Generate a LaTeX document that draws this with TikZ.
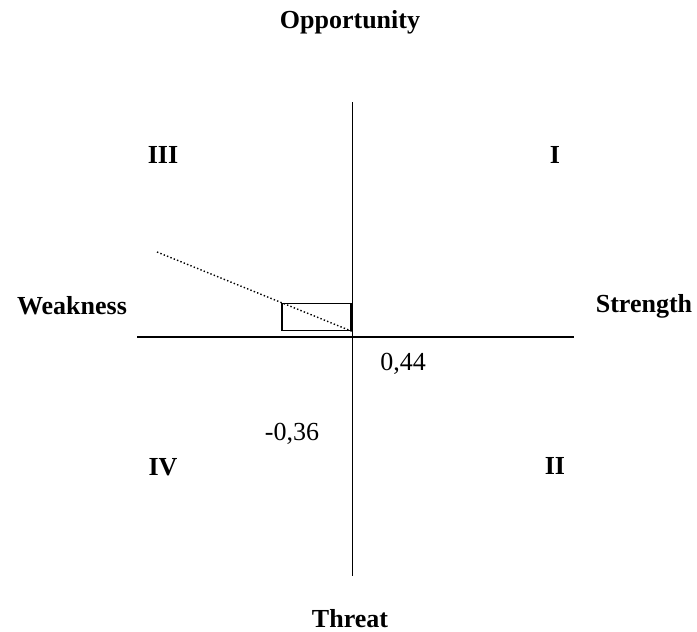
\documentclass[tikz,border=0pt]{standalone}
\usepackage{fontspec}
\setmainfont{Liberation Serif}
\begin{document}
\begin{tikzpicture}[x=1pt,y=-1pt,
  axis/.style={line width=1.5pt},
  lbl/.style={font=\fontsize{26}{30}\selectfont\bfseries, inner sep=0pt},
  num/.style={font=\fontsize{26}{30}\selectfont, inner sep=0pt},
  box/.style={draw, line width=1.5pt, minimum width=69pt, minimum height=27pt, inner sep=0pt},
  dots/.style={line width=1.4pt, dash pattern=on 1.4pt off 2.2pt}]
\useasboundingbox (0,0) rectangle (697,632);
% axes
\coordinate (top) at (352.5,102);
\coordinate (bottom) at (352.5,576);
\coordinate (left) at (137,337);
\coordinate (right) at (574,337);
\draw[axis] (top) -- (bottom);
\draw[axis] (left) -- (right);
% labels
\node[lbl] (opp) at (350,22) {Opportunity};
\node[lbl, anchor=base] (thr) at (350,627) {Threat};
\node[lbl] (weak) at (72,306) {Weakness};
\node[lbl] (str) at (644,306) {Strength};
\node[lbl] (q3) at (163,155) {III};
\node[lbl] (q1) at (555,155) {I};
\node[lbl] (q4) at (163,467) {IV};
\node[lbl] (q2) at (555,466) {II};
\node[num] (x) at (403,364) {0,44};
\node[num] (y) at (292,434) {-0,36};
% result box and dotted line
\node[box] (res) at (316.5,317) {};
\coordinate (dstart) at (157,252);
\draw[dots] (dstart) -- (res.south east);
\end{tikzpicture}
\end{document}
